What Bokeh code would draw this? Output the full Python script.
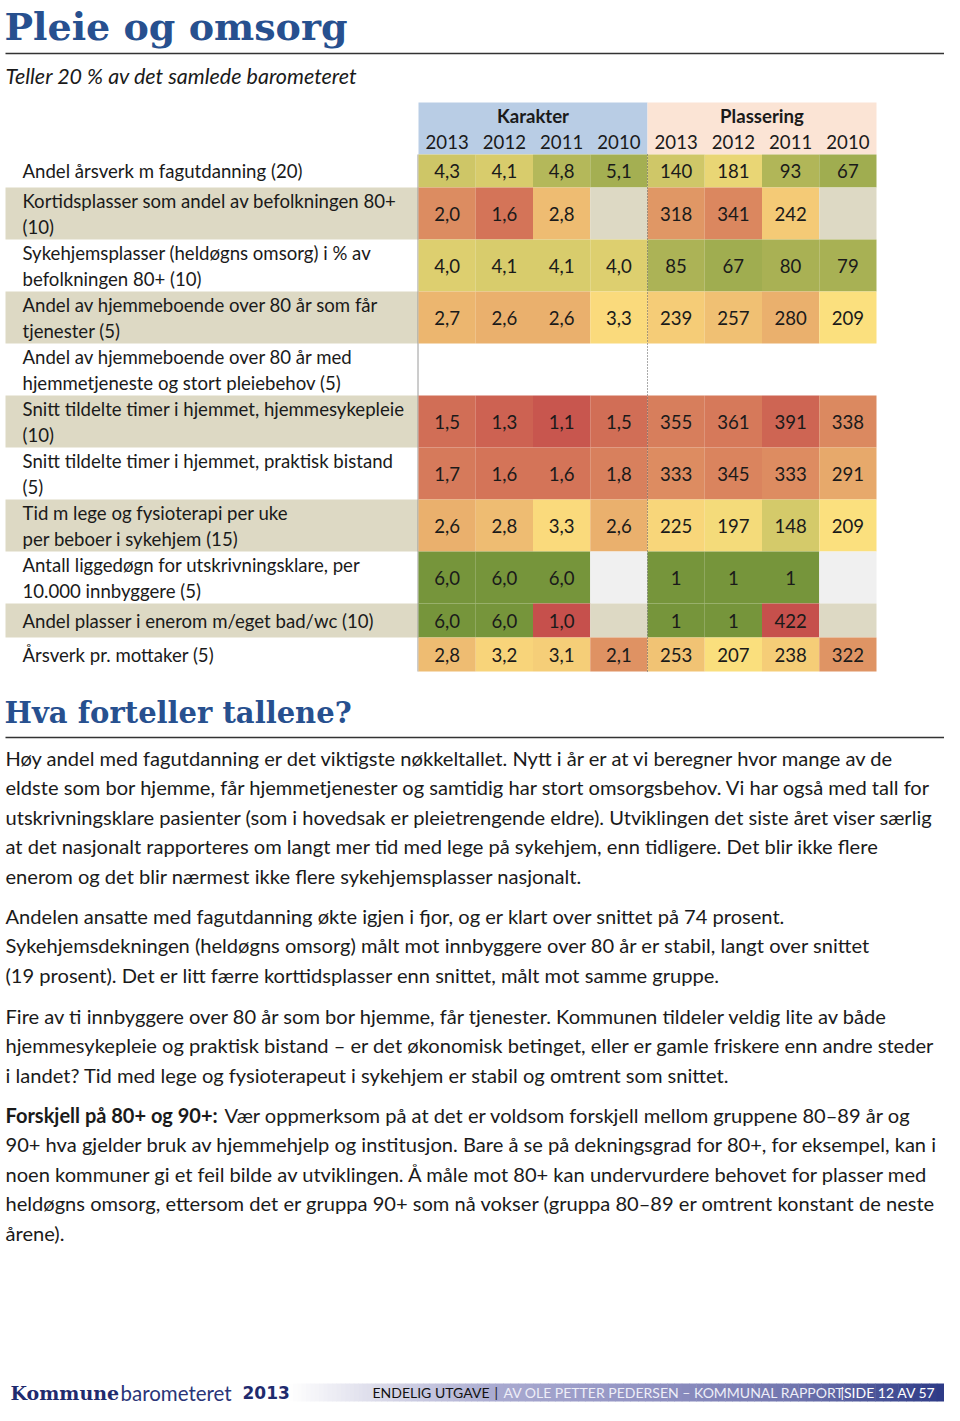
from bokeh.plotting import figure
from bokeh.models import Range1d, ColumnDataSource
from bokeh.embed import file_html
from bokeh.resources import INLINE
from bokeh.core.properties import value

# ---------------- data ----------------
years = ["2013", "2012", "2011", "2010"]
row_labels = [
    ["Andel årsverk m fagutdanning (20)"],
    ["Kortidsplasser som andel av befolkningen 80+", "(10)"],
    ["Sykehjemsplasser (heldøgns omsorg) i % av", "befolkningen 80+ (10)"],
    ["Andel av hjemmeboende over 80 år som får", "tjenester (5)"],
    ["Andel av hjemmeboende over 80 år med", "hjemmetjeneste og stort pleiebehov (5)"],
    ["Snitt tildelte timer i hjemmet, hjemmesykepleie", "(10)"],
    ["Snitt tildelte timer i hjemmet, praktisk bistand", "(5)"],
    ["Tid m lege og fysioterapi per uke", "per beboer i sykehjem (15)"],
    ["Antall liggedøgn for utskrivningsklare, per", "10.000 innbyggere (5)"],
    ["Andel plasser i enerom m/eget bad/wc (10)"],
    ["Årsverk pr. mottaker (5)"],
]
karakter = [
    [4.3, 4.1, 4.8, 5.1],
    [2.0, 1.6, 2.8, None],
    [4.0, 4.1, 4.1, 4.0],
    [2.7, 2.6, 2.6, 3.3],
    [None, None, None, None],
    [1.5, 1.3, 1.1, 1.5],
    [1.7, 1.6, 1.6, 1.8],
    [2.6, 2.8, 3.3, 2.6],
    [6.0, 6.0, 6.0, None],
    [6.0, 6.0, 1.0, None],
    [2.8, 3.2, 3.1, 2.1],
]
plassering = [
    [140, 181, 93, 67],
    [318, 341, 242, None],
    [85, 67, 80, 79],
    [239, 257, 280, 209],
    [None, None, None, None],
    [355, 361, 391, 338],
    [333, 345, 333, 291],
    [225, 197, 148, 209],
    [1, 1, 1, None],
    [1, 1, 422, None],
    [253, 207, 238, 322],
]

title = "Pleie og omsorg"
subtitle = "Teller 20 % av det samlede barometeret"
heading2 = "Hva forteller tallene?"
paragraphs = [
    ["Høy andel med fagutdanning er det viktigste nøkkeltallet. Nytt i år er at vi beregner hvor mange av de",
     "eldste som bor hjemme, får hjemmetjenester og samtidig har stort omsorgsbehov. Vi har også med tall for",
     "utskrivningsklare pasienter (som i hovedsak er pleietrengende eldre). Utviklingen det siste året viser særlig",
     "at det nasjonalt rapporteres om langt mer tid med lege på sykehjem, enn tidligere. Det blir ikke flere",
     "enerom og det blir nærmest ikke flere sykehjemsplasser nasjonalt."],
    ["Andelen ansatte med fagutdanning økte igjen i fjor, og er klart over snittet på 74 prosent.",
     "Sykehjemsdekningen (heldøgns omsorg) målt mot innbyggere over 80 år er stabil, langt over snittet",
     "(19 prosent). Det er litt færre korttidsplasser enn snittet, målt mot samme gruppe."],
    ["Fire av ti innbyggere over 80 år som bor hjemme, får tjenester. Kommunen tildeler veldig lite av både",
     "hjemmesykepleie og praktisk bistand – er det økonomisk betinget, eller er gamle friskere enn andre steder",
     "i landet? Tid med lege og fysioterapeut i sykehjem er stabil og omtrent som snittet."],
    ["Vær oppmerksom på at det er voldsom forskjell mellom gruppene 80–89 år og",
     "90+ hva gjelder bruk av hjemmehjelp og institusjon. Bare å se på dekningsgrad for 80+, for eksempel, kan i",
     "noen kommuner gi et feil bilde av utviklingen. Å måle mot 80+ kan undervurdere behovet for plasser med",
     "heldøgns omsorg, ettersom det er gruppa 90+ som nå vokser (gruppa 80–89 er omtrent konstant de neste",
     "årene)."],
]
bold_lead = "Forskjell på 80+ og 90+:"

# ---------------- styles ----------------
BLUE_T = "#27508f"
SANS = "Lato"
RED, YEL, GRN = "#c6504c", "#fce07e", "#76953b"
BEIGE = "#ddd9c4"
W, H = 944, 1405


def hx(c):
    return tuple(int(c[i:i + 2], 16) for i in (1, 3, 5))


def mix(c1, c2, t):
    a, b = hx(c1), hx(c2)
    return "#%02x%02x%02x" % tuple(int(round(a[i] + (b[i] - a[i]) * t)) for i in range(3))


def karakter_color(v):
    if v <= 3.4:
        return mix(RED, YEL, (v - 1) / 2.4)
    return mix(YEL, GRN, min(1, (v - 3.4) / 2.6))


def rank_color(r):
    if r <= 210:
        return mix(GRN, YEL, (r - 1) / 209)
    return mix(YEL, RED, min(1, (r - 210) / 212))


p = figure(width=W, height=H, x_range=Range1d(0, W), y_range=Range1d(H, 0),
           output_backend="svg", toolbar_location=None, x_axis_location=None,
           y_axis_location=None, min_border=0)
p.outline_line_color = None
p.grid.visible = False
p.background_fill_color = "white"


def txt(x, y, s, size, font=SANS, style="normal", color="#1a1a1a", align="left"):
    p.text(x=[x], y=[y], text=[s], text_font=value(font), text_font_size=value(size),
           text_font_style=style, text_color=color, text_align=align, text_baseline="middle")


# title block
txt(4, 26, title, "38px", font="DejaVu Serif", style="bold", color=BLUE_T)
p.segment(x0=[5], y0=[53], x1=[W], y1=[53], line_color="#333333", line_width=1.5)
txt(5, 75, subtitle, "21.5px", style="italic")

# table geometry
X0 = 418.0
CW = 57.25
HEAD_TOP, HEAD_BOT = 102, 154
heights = [(33 if i == 0 else 34) if len(l) == 1 else 52 for i, l in enumerate(row_labels)]
tops = [HEAD_BOT]
for h in heights:
    tops.append(tops[-1] + h)

# header bands
p.quad(left=[X0, X0 + 4 * CW], right=[X0 + 4 * CW, X0 + 8 * CW], bottom=[HEAD_BOT, HEAD_BOT],
       top=[HEAD_TOP, HEAD_TOP], fill_color=["#b9cde5", "#fbe4d5"], line_color=None)
txt(X0 + 2 * CW, 115, "Karakter", "18.6px", style="bold", align="center")
txt(X0 + 6 * CW, 115, "Plassering", "18.6px", style="bold", align="center")
for g in range(2):
    for j, yr in enumerate(years):
        txt(X0 + (g * 4 + j + 0.5) * CW, 141, yr, "18.6px", align="center")

# row backgrounds for labels
shaded = [i % 2 == 1 for i in range(len(row_labels))]
idx = [i for i in range(len(row_labels)) if shaded[i]]
p.quad(left=[5] * len(idx), right=[X0] * len(idx), top=[tops[i] for i in idx],
       bottom=[tops[i + 1] for i in idx], fill_color=BEIGE, line_color=None)

p.segment(x0=[X0 - 0.5], y0=[HEAD_BOT], x1=[X0 - 0.5], y1=[tops[-1]], line_color="#9a9a9a",
          line_width=1)

# cells
cl, cr, ct, cb, cc = [], [], [], [], []
tx, ty, tt = [], [], []
for i in range(len(row_labels)):
    has_data = any(v is not None for v in karakter[i])
    for g, (vals, colf) in enumerate(((karakter[i], karakter_color), (plassering[i], rank_color))):
        for j, v in enumerate(vals):
            left = X0 + (g * 4 + j) * CW
            if v is None:
                if not has_data:
                    continue
                col = BEIGE if shaded[i] else "#f0f0f0"
            else:
                col = colf(v)
                tx.append(left + CW / 2)
                ty.append((tops[i] + tops[i + 1]) / 2)
                tt.append(("%.1f" % v).replace(".", ",") if g == 0 else str(v))
            cl.append(left)
            cr.append(left + CW)
            ct.append(tops[i])
            cb.append(tops[i + 1])
            cc.append(col)
p.quad(source=ColumnDataSource(dict(left=cl, right=cr, top=ct, bottom=cb, color=cc)),
       left="left", right="right", top="top", bottom="bottom", fill_color="color", line_color=None)
p.text(x=tx, y=ty, text=tt, text_font=value(SANS), text_font_size=value("18.6px"),
       text_color="#1a1a1a", text_align="center", text_baseline="middle")

p.segment(x0=[X0 + 4 * CW], y0=[HEAD_BOT], x1=[X0 + 4 * CW], y1=[tops[-1]], line_color="#555555",
          line_width=1, line_dash="1 2")

# row labels
for i, lines in enumerate(row_labels):
    if len(lines) == 1:
        txt(22, (tops[i] + tops[i + 1]) / 2, lines[0], "18.6px")
    else:
        txt(22, tops[i] + 13, lines[0], "18.6px")
        txt(22, tops[i] + 39, lines[1], "18.6px")

# heading 2
txt(4, 712, heading2, "29px", font="DejaVu Serif", style="bold", color=BLUE_T)
p.segment(x0=[5], y0=[737], x1=[W], y1=[737], line_color="#333333", line_width=1.5)

# paragraphs
para_tops = [757, 915, 1015, 1114]
LH = 29.5
FS = "20.1px"
for k, para in enumerate(paragraphs):
    for n, line in enumerate(para):
        y = para_tops[k] + n * LH
        if k == 3 and n == 0:
            txt(5, y, bold_lead, "20px", style="bold")
            txt(224, y, line, FS)
        else:
            txt(5, y, line, FS)

# footer
FY0, FY1 = 1383, 1401
stops = [(288, "#ffffff"), (375, "#dcdcea"), (495, "#a9aad0"), (645, "#9192c2"),
         (790, "#7175ae"), (W, "#2c3a86")]
gl, gr, gc = [], [], []
for s in range(len(stops) - 1):
    xa, ca = stops[s]
    xb, cb_ = stops[s + 1]
    n = 20
    for m in range(n):
        gl.append(xa + (xb - xa) * m / n)
        gr.append(xa + (xb - xa) * (m + 1) / n + 0.5)
        gc.append(mix(ca, cb_, (m + 0.5) / n))
p.quad(left=gl, right=gr, top=FY0, bottom=FY1, fill_color=gc, line_color=None)

FYM = 1392
txt(10, FYM, "Kommune", "19px", font="DejaVu Serif", style="bold", color="#1f2b6e")
txt(120, FYM, "barometeret", "20.5px", font=SANS, color="#2a3577")
txt(242, FYM, "2013", "17px", font="DejaVu Sans", style="bold", color="#1f2b6e")
txt(372, FYM, "ENDELIG UTGAVE", "14px", color="#111111")
txt(494, FYM, "|", "14px", color="#222222")
txt(503, FYM, "AV OLE PETTER PEDERSEN – KOMMUNAL RAPPORT", "14px", color="#eeeef8")
txt(840, FYM, "|SIDE 12 AV 57", "14px", color="#ffffff")

open("out.html", "w").write(file_html(p, INLINE))
